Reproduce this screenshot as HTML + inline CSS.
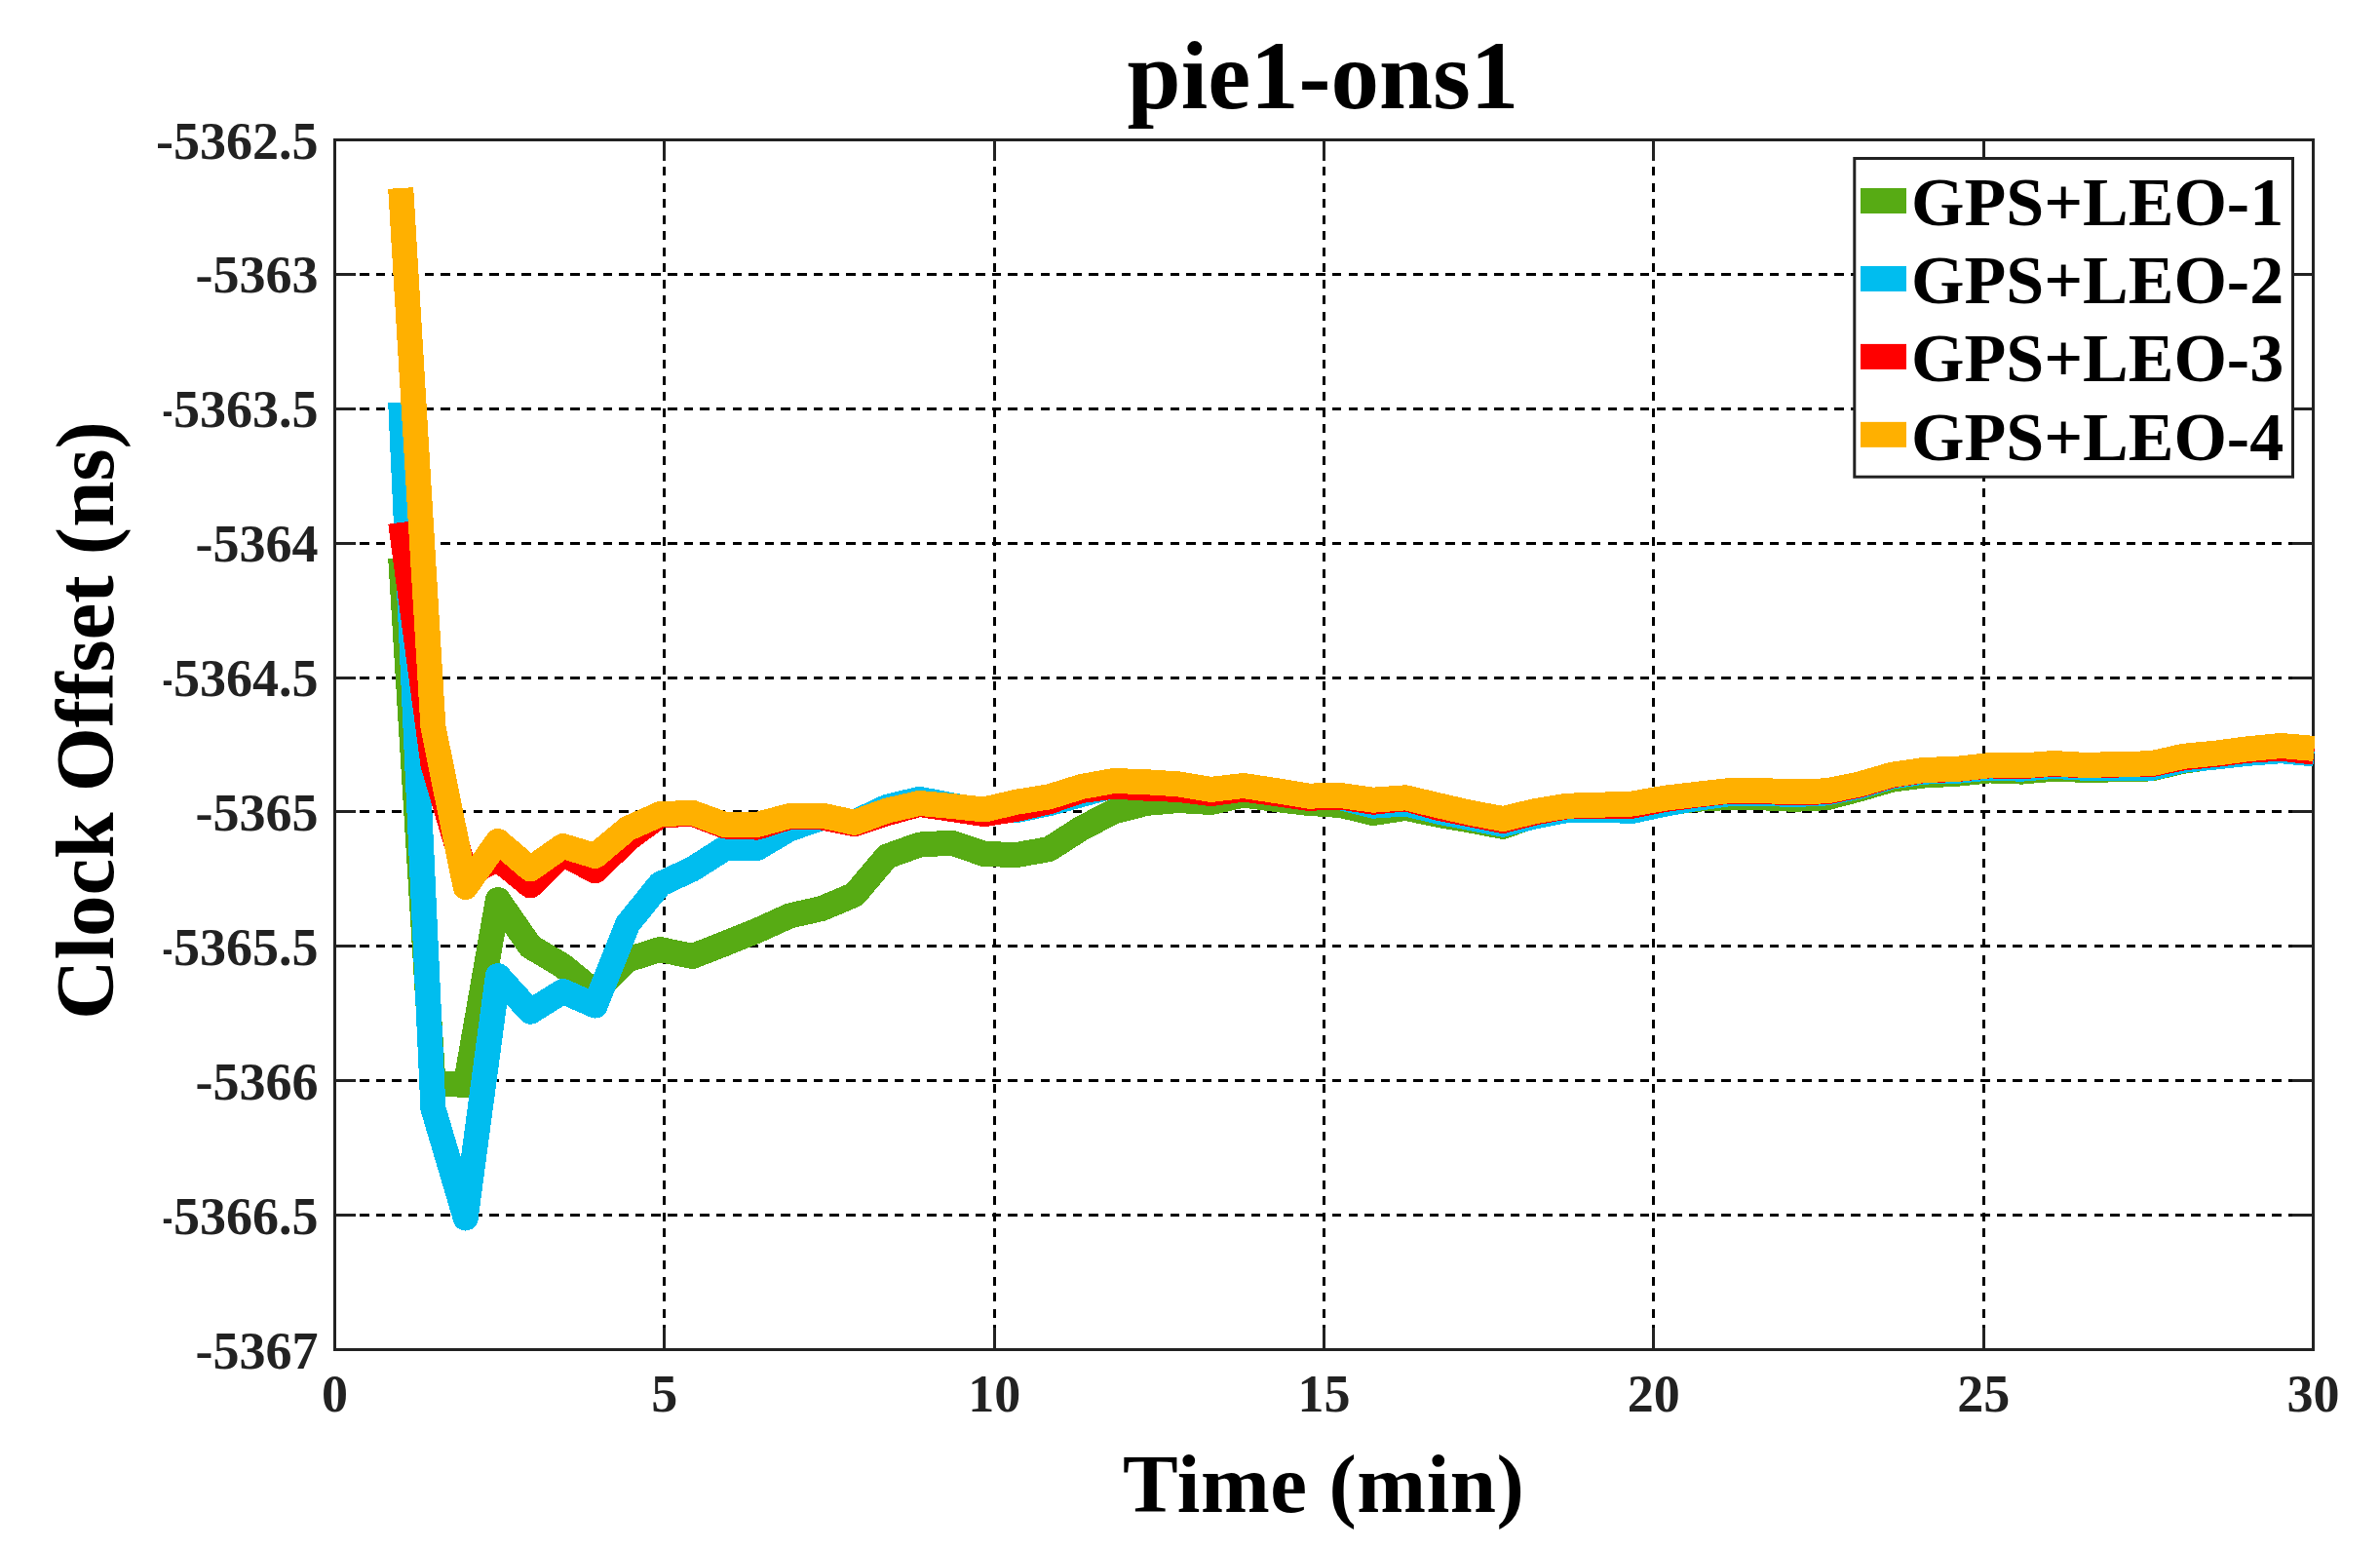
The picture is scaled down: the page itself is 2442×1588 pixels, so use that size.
<!DOCTYPE html>
<html><head><meta charset="utf-8"><title>pie1-ons1</title>
<style>html,body{margin:0;padding:0;background:#fff}svg{display:block}text{font-family:"Liberation Serif",serif;font-weight:bold}</style></head><body>
<svg width="2442" height="1588" viewBox="0 0 2442 1588">
<rect width="2442" height="1588" fill="#fff"/>
<defs><clipPath id="c"><rect x="342" y="142" width="2033" height="1244"/></clipPath></defs>
<g stroke="#000" stroke-width="3" fill="none" shape-rendering="crispEdges">
<line x1="681.50" y1="143.5" x2="681.50" y2="1384.5" stroke-dasharray="9.1 7.4" stroke-dashoffset="5.3"/>
<line x1="1020.50" y1="143.5" x2="1020.50" y2="1384.5" stroke-dasharray="9.1 7.4" stroke-dashoffset="5.3"/>
<line x1="1358.50" y1="143.5" x2="1358.50" y2="1384.5" stroke-dasharray="9.1 7.4" stroke-dashoffset="5.3"/>
<line x1="1696.50" y1="143.5" x2="1696.50" y2="1384.5" stroke-dasharray="9.1 7.4" stroke-dashoffset="5.3"/>
<line x1="2035.50" y1="143.5" x2="2035.50" y2="1384.5" stroke-dasharray="9.1 7.4" stroke-dashoffset="5.3"/>
<line x1="343.5" y1="281.50" x2="2373.5" y2="281.50" stroke-dasharray="9.5 7.13" stroke-dashoffset="7.66"/>
<line x1="343.5" y1="419.50" x2="2373.5" y2="419.50" stroke-dasharray="9.5 7.13" stroke-dashoffset="7.66"/>
<line x1="343.5" y1="557.50" x2="2373.5" y2="557.50" stroke-dasharray="9.5 7.13" stroke-dashoffset="7.66"/>
<line x1="343.5" y1="695.50" x2="2373.5" y2="695.50" stroke-dasharray="9.5 7.13" stroke-dashoffset="7.66"/>
<line x1="343.5" y1="832.50" x2="2373.5" y2="832.50" stroke-dasharray="9.5 7.13" stroke-dashoffset="7.66"/>
<line x1="343.5" y1="970.50" x2="2373.5" y2="970.50" stroke-dasharray="9.5 7.13" stroke-dashoffset="7.66"/>
<line x1="343.5" y1="1108.50" x2="2373.5" y2="1108.50" stroke-dasharray="9.5 7.13" stroke-dashoffset="7.66"/>
<line x1="343.5" y1="1246.50" x2="2373.5" y2="1246.50" stroke-dasharray="9.5 7.13" stroke-dashoffset="7.66"/>
</g>
<g stroke="#222222" stroke-width="3" fill="none">
<rect x="343.5" y="143.5" width="2030.0" height="1241.0"/>
<line x1="681.50" y1="143.5" x2="681.50" y2="165.0"/>
<line x1="681.50" y1="1384.5" x2="681.50" y2="1362.0"/>
<line x1="1020.50" y1="143.5" x2="1020.50" y2="165.0"/>
<line x1="1020.50" y1="1384.5" x2="1020.50" y2="1362.0"/>
<line x1="1358.50" y1="143.5" x2="1358.50" y2="165.0"/>
<line x1="1358.50" y1="1384.5" x2="1358.50" y2="1362.0"/>
<line x1="1696.50" y1="143.5" x2="1696.50" y2="165.0"/>
<line x1="1696.50" y1="1384.5" x2="1696.50" y2="1362.0"/>
<line x1="2035.50" y1="143.5" x2="2035.50" y2="165.0"/>
<line x1="2035.50" y1="1384.5" x2="2035.50" y2="1362.0"/>
<line x1="343.5" y1="281.50" x2="365.0" y2="281.50"/>
<line x1="2373.5" y1="281.50" x2="2352.0" y2="281.50"/>
<line x1="343.5" y1="419.50" x2="365.0" y2="419.50"/>
<line x1="2373.5" y1="419.50" x2="2352.0" y2="419.50"/>
<line x1="343.5" y1="557.50" x2="365.0" y2="557.50"/>
<line x1="2373.5" y1="557.50" x2="2352.0" y2="557.50"/>
<line x1="343.5" y1="695.50" x2="365.0" y2="695.50"/>
<line x1="2373.5" y1="695.50" x2="2352.0" y2="695.50"/>
<line x1="343.5" y1="832.50" x2="365.0" y2="832.50"/>
<line x1="2373.5" y1="832.50" x2="2352.0" y2="832.50"/>
<line x1="343.5" y1="970.50" x2="365.0" y2="970.50"/>
<line x1="2373.5" y1="970.50" x2="2352.0" y2="970.50"/>
<line x1="343.5" y1="1108.50" x2="365.0" y2="1108.50"/>
<line x1="2373.5" y1="1108.50" x2="2352.0" y2="1108.50"/>
<line x1="343.5" y1="1246.50" x2="365.0" y2="1246.50"/>
<line x1="2373.5" y1="1246.50" x2="2352.0" y2="1246.50"/>
</g>
<g clip-path="url(#c)" fill="none" stroke-width="26" stroke-linejoin="round" stroke-linecap="butt" shape-rendering="crispEdges">
<polyline stroke="#57AB14" points="411.2,572.0 444.4,1111.0 477.7,1113.0 510.9,923.0 544.2,971.0 577.5,990.8 610.7,1018.0 644.0,984.5 677.2,974.0 710.5,981.0 743.8,968.0 777.0,954.6 810.3,939.5 843.5,931.9 876.8,917.8 910.1,878.5 943.3,866.6 976.6,864.6 1009.8,876.0 1043.1,877.0 1076.4,871.1 1109.6,849.7 1142.9,832.5 1176.1,823.9 1209.4,821.0 1242.7,823.0 1275.9,815.5 1309.2,820.0 1342.4,823.9 1375.7,826.0 1409.0,834.0 1442.2,828.9 1475.5,835.8 1508.7,841.5 1542.0,847.9 1575.3,836.0 1608.5,830.0 1641.8,830.0 1675.0,831.0 1708.3,824.0 1741.6,819.7 1774.8,818.0 1808.1,818.3 1841.3,819.8 1874.6,818.2 1907.9,809.4 1941.1,799.7 1974.4,795.5 2007.6,793.8 2040.9,790.4 2074.2,791.6 2107.4,788.7 2140.7,789.9 2173.9,789.3 2207.2,788.4 2240.5,780.7 2273.7,776.0 2307.0,772.0 2340.2,769.0 2374.5,772.0"/>
<polyline stroke="#00BDEF" points="411.2,412.8 444.4,1137.0 477.7,1249.5 510.9,1001.0 544.2,1037.8 577.5,1017.0 610.7,1031.5 644.0,948.0 677.2,907.0 710.5,891.5 743.8,870.3 777.0,869.9 810.3,850.3 843.5,838.9 876.8,843.5 910.1,827.8 943.3,819.8 976.6,826.2 1009.8,832.0 1043.1,831.0 1076.4,824.2 1109.6,815.0 1142.9,806.0 1176.1,807.0 1209.4,809.0 1242.7,813.5 1275.9,809.0 1309.2,813.5 1342.4,818.5 1375.7,818.3 1409.0,826.7 1442.2,824.4 1475.5,832.5 1508.7,839.0 1542.0,845.7 1575.3,837.3 1608.5,830.9 1641.8,830.9 1675.0,831.9 1708.3,824.7 1741.6,818.8 1774.8,814.1 1808.1,813.8 1841.3,815.1 1874.6,813.4 1907.9,806.7 1941.1,796.6 1974.4,791.6 2007.6,790.9 2040.9,787.6 2074.2,788.7 2107.4,785.9 2140.7,787.9 2173.9,787.6 2207.2,787.9 2240.5,779.8 2273.7,776.5 2307.0,772.8 2340.2,770.2 2374.5,773.5"/>
<polyline stroke="#FF0000" points="411.2,536.0 444.4,784.0 477.7,897.0 510.9,881.3 544.2,908.5 577.5,875.7 610.7,893.5 644.0,861.0 677.2,836.4 710.5,834.8 743.8,847.5 777.0,848.6 810.3,838.0 843.5,838.5 876.8,845.2 910.1,834.2 943.3,825.0 976.6,830.0 1009.8,835.1 1043.1,829.9 1076.4,822.2 1109.6,811.0 1142.9,806.6 1176.1,808.7 1209.4,809.9 1242.7,814.1 1275.9,809.6 1309.2,814.1 1342.4,818.8 1375.7,817.6 1409.0,822.7 1442.2,819.3 1475.5,828.7 1508.7,835.4 1542.0,842.0 1575.3,833.4 1608.5,827.2 1641.8,826.7 1675.0,826.7 1708.3,820.0 1741.6,815.5 1774.8,811.6 1808.1,812.1 1841.3,813.1 1874.6,812.3 1907.9,805.5 1941.1,795.5 1974.4,790.1 2007.6,789.2 2040.9,785.4 2074.2,786.2 2107.4,783.7 2140.7,785.5 2173.9,784.5 2207.2,784.2 2240.5,777.3 2273.7,773.9 2307.0,769.7 2340.2,767.7 2374.5,771.6"/>
<polyline stroke="#FFB000" points="411.2,193.0 444.4,745.5 477.7,910.0 510.9,863.0 544.2,891.4 577.5,868.0 610.7,878.0 644.0,850.0 677.2,835.2 710.5,833.8 743.8,846.0 777.0,845.9 810.3,837.0 843.5,836.6 876.8,843.8 910.1,831.6 943.3,823.9 976.6,827.0 1009.8,830.5 1043.1,822.7 1076.4,817.4 1109.6,807.0 1142.9,801.0 1176.1,802.2 1209.4,804.4 1242.7,809.9 1275.9,806.0 1309.2,811.1 1342.4,816.6 1375.7,816.1 1409.0,820.7 1442.2,818.3 1475.5,826.2 1508.7,833.8 1542.0,840.0 1575.3,832.1 1608.5,826.7 1641.8,825.7 1675.0,824.5 1708.3,818.7 1741.6,814.8 1774.8,811.1 1808.1,811.1 1841.3,812.4 1874.6,811.3 1907.9,804.5 1941.1,794.8 1974.4,789.9 2007.6,788.9 2040.9,785.2 2074.2,785.5 2107.4,783.0 2140.7,785.0 2173.9,783.9 2207.2,783.3 2240.5,775.8 2273.7,772.6 2307.0,768.2 2340.2,765.0 2374.5,767.9"/>
</g>
<rect x="1902.8" y="162.5" width="449.7" height="326.7" fill="#fff" stroke="#222222" stroke-width="3"/>
<rect x="1909" y="193.00" width="47" height="26" fill="#57AB14"/>
<text x="1961" y="230.8" font-size="70" fill="#000">GPS+LEO-1</text>
<rect x="1909" y="272.95" width="47" height="26" fill="#00BDEF"/>
<text x="1961" y="311.1" font-size="70" fill="#000">GPS+LEO-2</text>
<rect x="1909" y="352.90" width="47" height="26" fill="#FF0000"/>
<text x="1961" y="391.4" font-size="70" fill="#000">GPS+LEO-3</text>
<rect x="1909" y="432.85" width="47" height="26" fill="#FFB000"/>
<text x="1961" y="471.7" font-size="70" fill="#000">GPS+LEO-4</text>
<text x="343.5" y="1448.3" font-size="54" fill="#222222" text-anchor="middle">0</text>
<text x="681.8" y="1448.3" font-size="54" fill="#222222" text-anchor="middle">5</text>
<text x="1020.2" y="1448.3" font-size="54" fill="#222222" text-anchor="middle">10</text>
<text x="1358.5" y="1448.3" font-size="54" fill="#222222" text-anchor="middle">15</text>
<text x="1696.8" y="1448.3" font-size="54" fill="#222222" text-anchor="middle">20</text>
<text x="2035.2" y="1448.3" font-size="54" fill="#222222" text-anchor="middle">25</text>
<text x="2373.5" y="1448.3" font-size="54" fill="#222222" text-anchor="middle">30</text>
<text x="326.5" y="162.5" font-size="54" fill="#222222" text-anchor="end">-5362.5</text>
<text x="326.5" y="300.4" font-size="54" fill="#222222" text-anchor="end">-5363</text>
<text x="326.5" y="438.3" font-size="54" fill="#222222" text-anchor="end">-5363.5</text>
<text x="326.5" y="576.2" font-size="54" fill="#222222" text-anchor="end">-5364</text>
<text x="326.5" y="714.1" font-size="54" fill="#222222" text-anchor="end">-5364.5</text>
<text x="326.5" y="851.9" font-size="54" fill="#222222" text-anchor="end">-5365</text>
<text x="326.5" y="989.8" font-size="54" fill="#222222" text-anchor="end">-5365.5</text>
<text x="326.5" y="1127.7" font-size="54" fill="#222222" text-anchor="end">-5366</text>
<text x="326.5" y="1265.6" font-size="54" fill="#222222" text-anchor="end">-5366.5</text>
<text x="326.5" y="1403.5" font-size="54" fill="#222222" text-anchor="end">-5367</text>
<rect x="40" y="200" width="127.8" height="1080" fill="#fff"/>
<text x="1357.4" y="110.8" font-size="99" fill="#000" text-anchor="middle">pie1-ons1</text>
<text x="1358.3" y="1550.9" font-size="85" fill="#000" text-anchor="middle" letter-spacing="0.55">Time (min)</text>
<text transform="translate(115.9 739.1) rotate(-90)" font-size="85" fill="#000" text-anchor="middle">Clock Offset (ns)</text>
</svg></body></html>
